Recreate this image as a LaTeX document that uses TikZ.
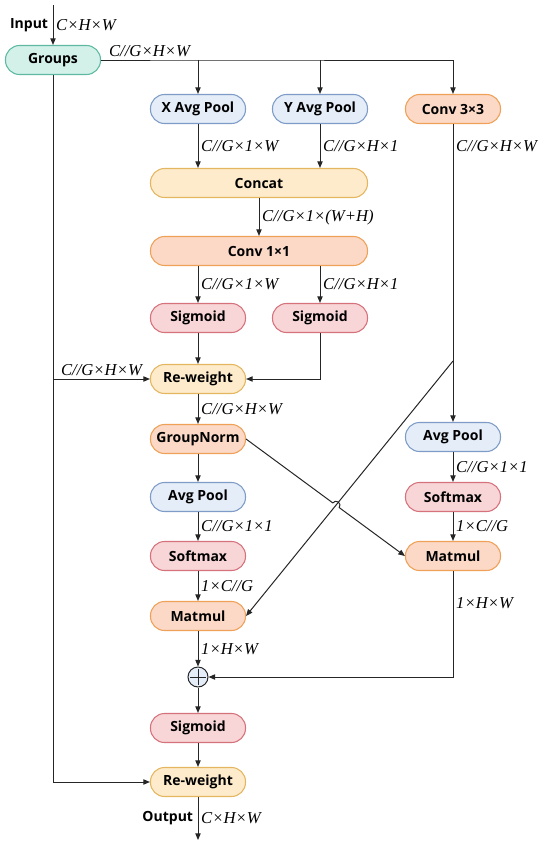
\documentclass[tikz,border=0pt]{standalone}
\usepackage{fontspec}
\setmainfont{Open Sans}
\newfontfamily\dimfont{Liberation Serif}
\usetikzlibrary{arrows.meta,calc}

\definecolor{tealfill}{HTML}{D3F1E9}
\definecolor{tealdraw}{HTML}{5DB9A2}
\definecolor{bluefill}{HTML}{E4EDF8}
\definecolor{bluedraw}{HTML}{7E9CC7}
\definecolor{peachfill}{HTML}{FBD9C6}
\definecolor{peachdraw}{HTML}{EFA158}
\definecolor{yellowfill}{HTML}{FDEBCB}
\definecolor{yellowdraw}{HTML}{E4B660}
\definecolor{pinkfill}{HTML}{F8D5D6}
\definecolor{pinkdraw}{HTML}{D6727C}
\definecolor{linegray}{HTML}{262626}

\begin{document}
\begin{tikzpicture}[
  x=0.75pt,y=-0.75pt,
  box/.style={draw,line width=0.8pt,rounded corners=10.5pt,minimum width=71.25pt,
    minimum height=21.75pt,inner sep=0pt,font=\bfseries\fontsize{10.5}{12}\selectfont},
  widebox/.style={box,minimum width=162.75pt},
  tealbox/.style={box,fill=tealfill,draw=tealdraw},
  bluebox/.style={box,fill=bluefill,draw=bluedraw},
  peachbox/.style={box,fill=peachfill,draw=peachdraw},
  yellowbox/.style={box,fill=yellowfill,draw=yellowdraw},
  pinkbox/.style={box,fill=pinkfill,draw=pinkdraw},
  dim/.style={font=\dimfont\itshape\fontsize{12.5}{14}\selectfont,inner sep=2pt},
  lbl/.style={font=\bfseries\fontsize{10.5}{12}\selectfont},
  arr/.style={-{Triangle[length=5pt,width=4pt]},line width=0.75pt,draw=linegray}
]
  \useasboundingbox (0,0) rectangle (550,844);

  % left and middle column
  \coordinate (in) at (53,5);
  \node[tealbox] (groups) at (53,60) {Groups};
  \node[bluebox] (xpool) at (198,109) {X Avg Pool};
  \node[bluebox] (ypool) at (320,109) {Y Avg Pool};
  \node[peachbox] (conv3) at (453,109) {Conv 3×3};
  \node[yellowbox,widebox] (concat) at (259,183) {Concat};
  \node[peachbox,widebox] (conv1) at (259,251) {Conv 1×1};
  \node[pinkbox] (sig1) at (198,318) {Sigmoid};
  \node[pinkbox] (sig2) at (320,318) {Sigmoid};
  \node[yellowbox] (rw1) at (198,379) {Re-weight};
  \node[peachbox] (gn) at (198,439) {GroupNorm};
  \node[bluebox] (pool1) at (198,497) {Avg Pool};
  \node[pinkbox] (soft1) at (198,556) {Softmax};
  \node[peachbox] (mm1) at (198,616) {Matmul};
  \node[circle,draw=linegray,fill=bluefill,line width=0.75pt,minimum size=15pt,inner sep=0pt] (plus) at (198,677) {};
  \draw[linegray,line width=0.6pt] ([yshift=-2pt]plus.north) -- ([yshift=2pt]plus.south)
    ([xshift=2pt]plus.west) -- ([xshift=-2pt]plus.east);
  \node[pinkbox] (sig3) at (198,728) {Sigmoid};
  \node[yellowbox] (rw2) at (198,782) {Re-weight};
  \coordinate (out) at (198,840);

  % right column
  \node[bluebox] (pool2) at (453,437) {Avg Pool};
  \node[pinkbox] (soft2) at (453,497) {Softmax};
  \node[peachbox] (mm2) at (453,556) {Matmul};
  \coordinate (tap) at (453,361);

  \draw[arr] (in) -- node[dim,right]{C×H×W} node[lbl,left]{Input} (groups);
  \draw[arr] (groups.east) -- node[dim,above]{C//G×H×W} (xpool |- groups.east)
    -- (conv3 |- groups.east) -- (conv3);
  \draw[arr] (xpool |- groups.east) -- (xpool);
  \draw[arr] (ypool |- groups.east) -- (ypool);
  \draw[arr] (xpool) -- node[dim,right]{C//G×1×W} (xpool |- concat.north);
  \draw[arr] (ypool) -- node[dim,right]{C//G×H×1} (ypool |- concat.north);
  \draw[arr] (concat) -- node[dim,right]{C//G×1×(W+H)} (conv1);
  \draw[arr] (conv1.south -| sig1) -- node[dim,right]{C//G×1×W} (sig1);
  \draw[arr] (conv1.south -| sig2) -- node[dim,right]{C//G×H×1} (sig2);
  \draw[arr] (sig1) -- (rw1);
  \draw[arr] (sig2) |- (rw1);
  \draw[arr] (groups) |- (rw2);
  \draw[arr] (groups |- rw1) -- node[dim,above]{C//G×H×W} (rw1);
  \draw[arr] (rw1) -- node[dim,right]{C//G×H×W} (gn);
  \draw[arr] (gn) -- (pool1);
  \draw[arr] (pool1) -- node[dim,right]{C//G×1×1} (soft1);
  \draw[arr] (soft1) -- node[dim,right]{1×C//G} (mm1);
  \draw[arr] (mm1) -- node[dim,right]{1×H×W} (plus);
  \draw[arr] (plus) -- (sig3);
  \draw[arr] (sig3) -- (rw2);
  \draw[arr] (rw2) -- node[dim,right]{C×H×W} node[lbl,left]{Output} (out);

  \draw[arr] (conv3) -- node[dim,right,pos=0.075]{C//G×H×W} (pool2);
  \draw[arr] (pool2) -- node[dim,right]{C//G×1×1} (soft2);
  \draw[arr] (soft2) -- node[dim,right]{1×C//G} (mm2);
  \draw[arr] (mm2) |- node[dim,right,pos=0.15]{1×H×W} (plus);
  \draw[arr] (tap) -- (mm1.east);

  % jump over the diagonal
  \coordinate (cross) at (intersection of gn.east--mm2.west and tap--mm1.east);
  \draw[arr] (gn.east) -- ($(cross)!3pt!(gn.east)$)
    arc[start angle=216.2,end angle=396.2,radius=4] -- (mm2.west);
\end{tikzpicture}
\end{document}
